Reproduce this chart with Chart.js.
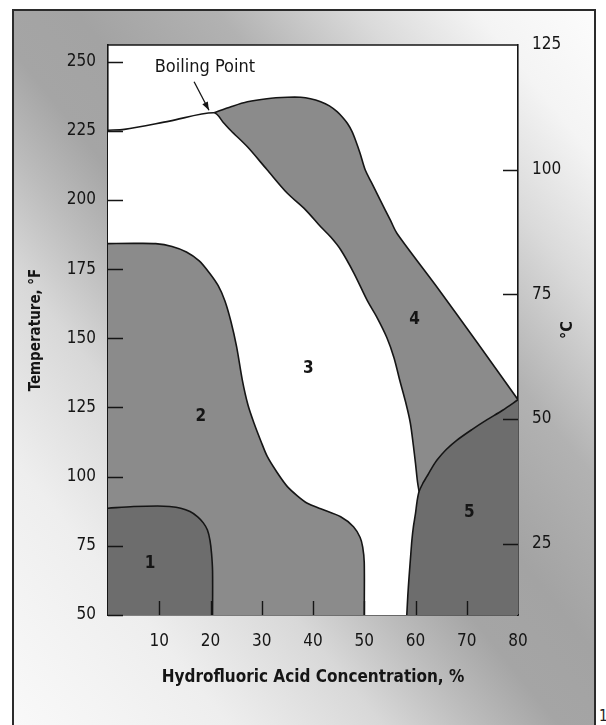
<!DOCTYPE html>
<html>
<head>
<meta charset="utf-8">
<script src="https://cdn.jsdelivr.net/npm/chart.js@4.4.0/dist/chart.umd.min.js"></script>
<style>
  html, body { margin: 0; padding: 0; background: #fff; }
  #page { position: relative; width: 606px; height: 725px; overflow: hidden; }
  #frame {
    position: absolute; left: 12px; top: 9px; width: 580px; height: 740px;
    border: 2px solid #2b2b2b;
    background: linear-gradient(51deg, #fafafa 0%, #eeeeee 20%, #d8d8d8 33%, #bcbcbc 41%, #a5a5a5 48%,
      #a3a3a3 56%, #b2b2b2 68%, #dadada 80%, #f4f4f4 90%, #fcfcfc 100%);
  }
  #pageno { position: absolute; left: 599px; top: 707px; font: 15px "DejaVu Sans Condensed", sans-serif; color: #222; }
  canvas { position: absolute; left: 0; top: 0; }
</style>
</head>
<body>
<div id="page">
  <div id="frame"></div>
  <span id="pageno">1</span>
  <canvas id="isoChart" width="606" height="725"></canvas>
</div>
<script>
// tick labels
const concTicks = [10, 20, 30, 40, 50, 60, 70, 80];
const tempFTicks = [50, 75, 100, 125, 150, 175, 200, 225, 250];
const tempCTicks = [25, 50, 75, 100, 125];

// region boundaries, [HF %, temperature F]
const region4Top = [[20.7,231.5],[24,233.7],[27.2,235.5],[31,236.6],[35,237.1],[37.6,237.1],[39.5,236.6],
  [41.5,235.5],[43.2,234],[44.7,231.9],[45.8,229.8],[46.7,227.7],[47.6,224.8],[48.3,221.6],[49.2,216.8],
  [50.2,210.8],[51.5,206],[53.1,200],[55.1,192.7],[56.4,187.9],[64,169],[72,148.6],[80,127.8]];
const region3Edge = [[0,225.2],[3.2,225.5],[12,228.5],[20.7,231.5],[22.5,228],[24,225],[27.2,219.2],[31,211],
  [35,202.4],[38.5,196.5],[41.5,190.3],[43.5,186.5],[45.4,182],[48,173.5],[50.6,163.6],[52.5,157.5],
  [54.4,150.3],[55.8,143],[56.9,135],[58.2,126],[59,119.3],[59.6,111],[60,104.8],[60.4,98],[60.7,94.6]];
const region5Edge = [[58.3,50],[58.5,57],[58.7,62.6],[59,70],[59.3,77.1],[59.6,82],[60,86.7],[60.3,91],
  [60.7,94.6],[61.5,97.8],[62.2,100],[63.2,103.2],[64.2,106],[66,109.8],[68.1,113.2],[71,117],[73.9,120.5],
  [77,124],[80,127.8]];
const region2Edge = [[0,184.2],[5,184.3],[9.3,184.2],[12.5,183.2],[15.3,181.2],[17.8,178],[19.8,173.6],
  [21.5,169],[22.8,163.6],[24,156],[25.1,146.9],[26.2,135],[27.3,126],[28.5,119.3],[29.8,113],[31.1,107.2],
  [33,101.5],[35,96.4],[37,93],[38.9,90.4],[41.5,88.4],[45.4,85.5],[47.9,81.9],[49.2,78],[49.7,74.5],
  [50,69],[50,50]];
const region1Edge = [[0,88.6],[5,89.2],[9.7,89.4],[12,89.2],[14.2,88.6],[16,87.4],[17.5,85.5],[18.6,83.3],
  [19.4,80.7],[19.9,77],[20.2,72.3],[20.4,66],[20.4,50]];

// annotations
const regionNames = ['1', '2', '3', '4', '5'];
const regionNameX = [8.2, 18.1, 39.1, 59.8, 70.5];
const regionNameY = [68.7, 121.7, 139, 156.9, 87];
const boilingLabel = 'Boiling Point';
const boilingLabelAt = [18.9, 248.1];
const boilingArrow = [[16.8, 242.7], [19.7, 232.4]];

const NARROW = '"Liberation Sans Narrow", "DejaVu Sans Condensed", sans-serif';
const INK = '#151515';
const MID = '#8b8b8b';
const DARK = '#6d6d6d';

function pts(arr) {
  return arr.map(p => ({x: p[0], y: p[1]}));
}

function region(name, edge, colour, order) {
  return {
    label: name, data: pts(edge), order: order,
    fill: 'start', backgroundColor: colour,
    borderColor: INK, borderWidth: 1.6, tension: 0.3,
    pointRadius: 0
  };
}

const extras = {
  id: 'extras',
  beforeDraw(chart) {
    const {ctx, chartArea: a} = chart;
    ctx.save();
    ctx.fillStyle = '#fff';
    ctx.fillRect(a.left, a.top, a.right - a.left, a.bottom - a.top);
    ctx.restore();
  },
  afterDraw(chart) {
    const {ctx, chartArea: a, scales} = chart;
    const x = scales.x, y = scales.y, yc = scales.yC;
    ctx.save();
    ctx.strokeStyle = INK;
    ctx.lineWidth = 1.6;
    // top edge of the box
    ctx.beginPath();
    ctx.moveTo(a.left, a.top);
    ctx.lineTo(a.right, a.top);
    ctx.stroke();
    // tick marks drawn inside the box
    ctx.lineWidth = 1.4;
    ctx.beginPath();
    tempFTicks.forEach(v => {
      const py = Math.round(y.getPixelForValue(v)) + 0.5;
      ctx.moveTo(a.left, py); ctx.lineTo(a.left + 15, py);
    });
    tempCTicks.slice(0, 4).forEach(v => {
      const py = Math.round(yc.getPixelForValue(v)) + 0.5;
      ctx.moveTo(a.right, py); ctx.lineTo(a.right - 15, py);
    });
    concTicks.slice(0, 7).forEach(v => {
      const px = Math.round(x.getPixelForValue(v)) + 0.5;
      ctx.moveTo(px, a.bottom); ctx.lineTo(px, a.bottom - 14);
    });
    ctx.stroke();

    // region numbers
    ctx.fillStyle = INK;
    ctx.textAlign = 'center';
    ctx.textBaseline = 'middle';
    ctx.font = 'bold 17px ' + NARROW;
    regionNames.forEach((n, i) => {
      ctx.fillText(n, x.getPixelForValue(regionNameX[i]), y.getPixelForValue(regionNameY[i]));
    });

    // boiling point note and arrow
    ctx.font = '18px ' + NARROW;
    ctx.fillText(boilingLabel, x.getPixelForValue(boilingLabelAt[0]), y.getPixelForValue(boilingLabelAt[1]));
    const x0 = x.getPixelForValue(boilingArrow[0][0]), y0 = y.getPixelForValue(boilingArrow[0][1]);
    const x1 = x.getPixelForValue(boilingArrow[1][0]), y1 = y.getPixelForValue(boilingArrow[1][1]);
    ctx.lineWidth = 1.3;
    ctx.beginPath();
    ctx.moveTo(x0, y0); ctx.lineTo(x1, y1);
    ctx.stroke();
    const ang = Math.atan2(y1 - y0, x1 - x0);
    ctx.beginPath();
    ctx.moveTo(x1, y1);
    ctx.lineTo(x1 - 9 * Math.cos(ang - 0.35), y1 - 9 * Math.sin(ang - 0.35));
    ctx.lineTo(x1 - 9 * Math.cos(ang + 0.35), y1 - 9 * Math.sin(ang + 0.35));
    ctx.closePath();
    ctx.fill();

    // right axis title, reading bottom to top
    ctx.translate(a.right + 50, (a.top + a.bottom) / 2);
    ctx.rotate(-Math.PI / 2);
    ctx.font = 'bold 16px ' + NARROW;
    ctx.fillText('°C', 0, 0);
    ctx.restore();
  }
};

const ctx = document.getElementById('isoChart').getContext('2d');
new Chart(ctx, {
  type: 'line',
  data: {
    datasets: [
      region('4', region4Top, MID, 5),
      region('3', region3Edge, '#ffffff', 4),
      region('5', region5Edge, DARK, 3),
      region('2', region2Edge, MID, 2),
      region('1', region1Edge, DARK, 1)
    ]
  },
  options: {
    responsive: false,
    devicePixelRatio: 1,
    animation: false,
    layout: { padding: { top: 45, left: 0, right: 0, bottom: 0 } },
    plugins: { legend: { display: false }, tooltip: { enabled: false } },
    scales: {
      x: {
        type: 'linear', position: 'bottom', min: 0, max: 80, z: 1,
        grid: { display: false },
        border: { display: true, color: INK, width: 1.6 },
        afterBuildTicks: s => { s.ticks = concTicks.map(v => ({value: v})); },
        afterFit: s => { s.height = 110; },
        ticks: { color: INK, padding: 8, maxRotation: 0, font: { family: NARROW, size: 17 } },
        title: {
          display: true, text: 'Hydrofluoric Acid Concentration, %', color: INK,
          font: { family: NARROW, size: 17, weight: 'bold' }, padding: { top: 0, bottom: 37 }
        }
      },
      y: {
        type: 'linear', position: 'left', min: 50, max: 256, z: 1,
        grid: { display: false },
        border: { display: true, color: INK, width: 1.6 },
        afterBuildTicks: s => { s.ticks = tempFTicks.map(v => ({value: v})); },
        afterFit: s => { s.width = 108; },
        ticks: { color: INK, padding: 4, font: { family: NARROW, size: 17 } },
        title: {
          display: true, text: 'Temperature, °F', color: INK,
          font: { family: NARROW, size: 15, weight: 'bold' }, padding: { top: 27, bottom: 0 }
        }
      },
      yC: {
        type: 'linear', position: 'right', min: 10.7, max: 125, z: 1,
        grid: { display: false },
        border: { display: true, color: INK, width: 1.6 },
        afterBuildTicks: s => { s.ticks = tempCTicks.map(v => ({value: v})); },
        afterFit: s => { s.width = 88; },
        ticks: { color: INK, padding: 6, font: { family: NARROW, size: 17 } }
      }
    }
  },
  plugins: [extras]
});
</script>
</body>
</html>
